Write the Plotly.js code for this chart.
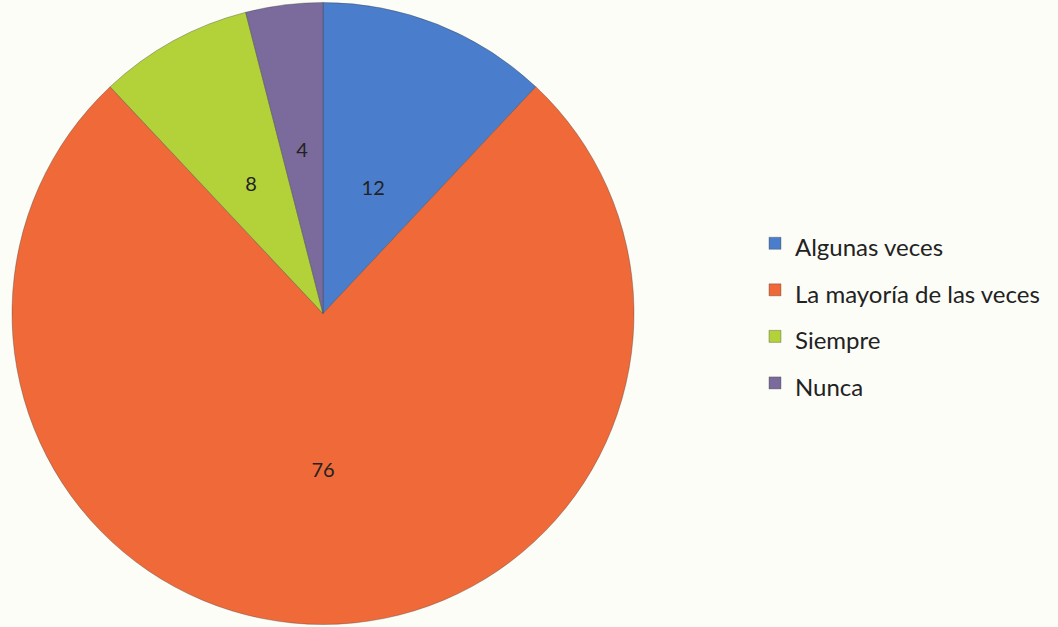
<!DOCTYPE html>
<html>
<head>
<meta charset="utf-8">
<script src="https://cdn.plot.ly/plotly-3.0.1.min.js"></script>
<style>html,body{margin:0;padding:0;background:#fdfdf8;}#chart{width:1058px;height:627px;}</style>
</head>
<body>
<div id="chart"></div>
<script>
const categories = ["Algunas veces", "La mayoría de las veces", "Siempre", "Nunca"];
const values = [12, 76, 8, 4];
const colors = ["#4a7dcb", "#ef6a38", "#b3d23a", "#7a6b9c"];

const W = 1058, H = 627;
const total = values.reduce((a, b) => a + b, 0);
const isBig = values.map(v => v / total > 0.5);

// main pie geometry (pixels)
const cx = 323, R = 311;
const mainDomain = {x: [(cx - R) / W, (cx + R) / W], y: [0, 1]};
const cy = H / 2;
const r2 = 0.6 * R;
const innerDomain = {x: [(cx - r2) / W, (cx + r2) / W], y: [(H - (cy + r2)) / H, (H - (cy - r2)) / H]};

const labelFont = {family: "Lato, 'Open Sans', sans-serif", size: 20, color: "#222222"};
const legendLabels = categories.map(c => '<span style="font-size:24px">' + c + '</span>');

const mainTrace = {
  type: "pie",
  labels: legendLabels,
  values: values,
  sort: false,
  direction: "clockwise",
  rotation: 0,
  text: values.map((v, i) => isBig[i] ? String(v) : ""),
  textinfo: "text",
  textposition: "inside",
  insidetextorientation: "horizontal",
  textfont: labelFont,
  marker: {colors: colors, line: {color: "rgba(60,60,60,0.35)", width: 1}},
  domain: mainDomain,
  hoverinfo: "skip"
};

const smallLabelTrace = {
  type: "pie",
  labels: legendLabels,
  values: values,
  sort: false,
  direction: "clockwise",
  rotation: 0,
  text: values.map((v, i) => isBig[i] ? "" : String(v)),
  textinfo: "text",
  textposition: "inside",
  insidetextorientation: "horizontal",
  textfont: labelFont,
  marker: {colors: values.map(() => "rgba(0,0,0,0)"), line: {width: 0}},
  domain: innerDomain,
  showlegend: false,
  hoverinfo: "skip"
};

const layout = {
  width: W,
  height: H,
  margin: {l: 0, r: 0, t: 0, b: 0},
  paper_bgcolor: "#fdfdf8",
  plot_bgcolor: "#fdfdf8",
  showlegend: true,
  legend: {
    x: 0.7136, y: 0.5, xanchor: "left", yanchor: "middle",
    font: {family: "Lato, 'Open Sans', sans-serif", size: 33.5, color: "#222222"},
    bgcolor: "rgba(0,0,0,0)",
    traceorder: "normal"
  }
};

Plotly.newPlot("chart", [mainTrace, smallLabelTrace], layout, {displayModeBar: false, staticPlot: true});
</script>
</body>
</html>
